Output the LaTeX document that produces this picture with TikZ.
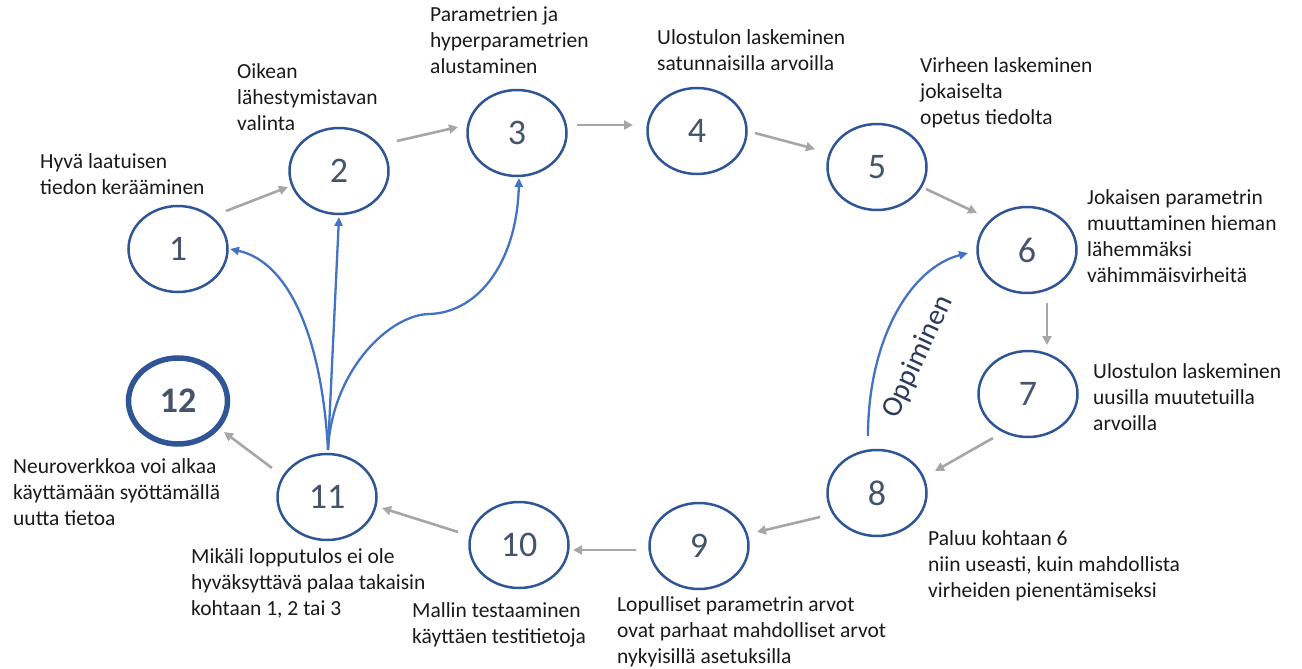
\documentclass[tikz,border=0pt]{standalone}
\usepackage{fontspec}
\setmainfont{Carlito}
\usetikzlibrary{shapes.geometric,arrows.meta,calc}

\definecolor{ringblue}{HTML}{2F5597}
\definecolor{flowblue}{HTML}{4472C4}
\definecolor{stepgray}{HTML}{A6A6A6}
\definecolor{numslate}{HTML}{44546A}
\definecolor{loopnavy}{HTML}{2B3A5C}
\definecolor{textdark}{HTML}{1A1A1A}

% multi-line caption whose baseline is the first line
\newcommand\txtlines[1]{\begin{tabular}[t]{@{}l@{}}#1\end{tabular}}

\tikzset{
  stepring/.style={ellipse, draw=ringblue, line width=2.5pt, minimum width=99pt,
    minimum height=86pt, inner sep=0pt, text=numslate,
    font=\fontsize{36}{40}\selectfont},
  finalring/.style={stepring, line width=5.5pt, font=\fontsize{36}{40}\selectfont\bfseries},
  caption/.style={anchor=base west, inner sep=0pt, text=textdark,
    font=\fontsize{21.5}{26}\selectfont},
  flowarrow/.style={draw=stepgray, line width=2.6pt,
    -{Triangle[length=9pt,width=9pt]}},
  backarrow/.style={draw=flowblue, line width=2.3pt,
    -{Triangle[length=9pt,width=8pt]}}
}

\begin{document}
\begin{tikzpicture}[x=1pt,y=-1pt]
\useasboundingbox (0,0) rectangle (1302,669);

% process steps
\node[stepring]  (n1)  at (178,249) {1};
\node[stepring]  (n2)  at (339,171) {2};
\node[stepring]  (n3)  at (517,133) {3};
\node[stepring]  (n4)  at (697,131) {4};
\node[stepring]  (n5)  at (877,167) {5};
\node[stepring]  (n6)  at (1027,250) {6};
\node[stepring]  (n7)  at (1028,394) {7};
\node[stepring]  (n8)  at (877,493) {8};
\node[stepring]  (n9)  at (699,546) {9};
\node[stepring]  (n10) at (519,545) {10};
\node[stepring]  (n11) at (327,497) {11};
\node[finalring] (n12) at (178,401) {12};

% step descriptions
\node[caption] (t1)  at (40,168)   {\txtlines{Hyvä laatuisen\\tiedon kerääminen}};
\node[caption] (t2)  at (237,78)   {\txtlines{Oikean\\lähestymistavan\\valinta}};
\node[caption] (t3)  at (430,22)   {\txtlines{Parametrien ja\\hyperparametrien\\alustaminen}};
\node[caption] (t4)  at (657,45)   {\txtlines{Ulostulon laskeminen\\satunnaisilla arvoilla}};
\node[caption] (t5)  at (920,73)   {\txtlines{Virheen laskeminen\\jokaiselta\\opetus tiedolta}};
\node[caption] (t6)  at (1087,204) {\txtlines{Jokaisen parametrin\\muuttaminen hieman\\lähemmäksi\\vähimmäisvirheitä}};
\node[caption] (t7)  at (1093,378) {\txtlines{Ulostulon laskeminen\\uusilla muutetuilla\\arvoilla}};
\node[caption] (t8)  at (928,545)  {\txtlines{Paluu kohtaan 6\\niin useasti, kuin mahdollista\\virheiden pienentämiseksi}};
\node[caption] (t9)  at (617,611)  {\txtlines{Lopulliset parametrin arvot\\ovat parhaat mahdolliset arvot\\nykyisillä asetuksilla}};
\node[caption] (t10) at (412,617)  {\txtlines{Mallin testaaminen\\käyttäen testitietoja}};
\node[caption] (t11) at (191,563)  {\txtlines{Mikäli lopputulos ei ole\\hyväksyttävä palaa takaisin\\kohtaan 1, 2 tai 3}};
\node[caption] (t12) at (13,473)   {\txtlines{Neuroverkkoa voi alkaa\\käyttämään syöttämällä\\uutta tietoa}};

% forward flow between steps
\draw[flowarrow] ($(n1)+(48,-38)$)  -- ($(n2)+(-51,16)$);
\draw[flowarrow] ($(n2)+(58,-30)$)  -- ($(n3)+(-59,-6)$);
\draw[flowarrow] ($(n3)+(60,-8)$)   -- ($(n4)+(-64,-6)$);
\draw[flowarrow] ($(n4)+(58,2)$)    -- ($(n5)+(-62,-18)$);
\draw[flowarrow] ($(n5)+(49,22)$)   -- ($(n6)+(-50,-37)$);
\draw[flowarrow] ($(n6)+(20,53)$)   -- ($(n7)+(19,-49)$);
\draw[flowarrow] ($(n7)+(-35,44)$)  -- ($(n8)+(58,-22)$);
\draw[flowarrow] ($(n8)+(-57,24)$)  -- ($(n9)+(58,-14)$);
\draw[flowarrow] ($(n9)+(-63,4)$)   -- ($(n10)+(54,5)$);
\draw[flowarrow] ($(n10)+(-61,-13)$) -- ($(n11)+(55,11)$);
\draw[flowarrow] ($(n11)+(-55,-29)$) -- ($(n12)+(46,31)$);

% return paths from step 11
\coordinate (fork) at ($(n11)+(1,-47)$);
\draw[backarrow] (fork) .. controls (322,340) and (290,262) .. ($(n1)+(52,0)$);
\draw[backarrow] (fork) -- ($(n2)+(0,46)$);
\draw[backarrow] (fork) .. controls (332,370) and (390,314) .. (430,314)
                        .. controls (480,312) and (517,260) .. ($(n3)+(2,45)$);

% learning loop from 8 back to 6
\draw[backarrow] ($(n8)+(-9,-57)$) .. controls (868,340) and (910,268) .. ($(n6)+(-59,3)$);
\node[rotate=65, text=loopnavy, font=\fontsize{29}{32}\selectfont, inner sep=0pt]
  (opp) at (918,357) {Oppiminen};

\end{tikzpicture}
\end{document}
